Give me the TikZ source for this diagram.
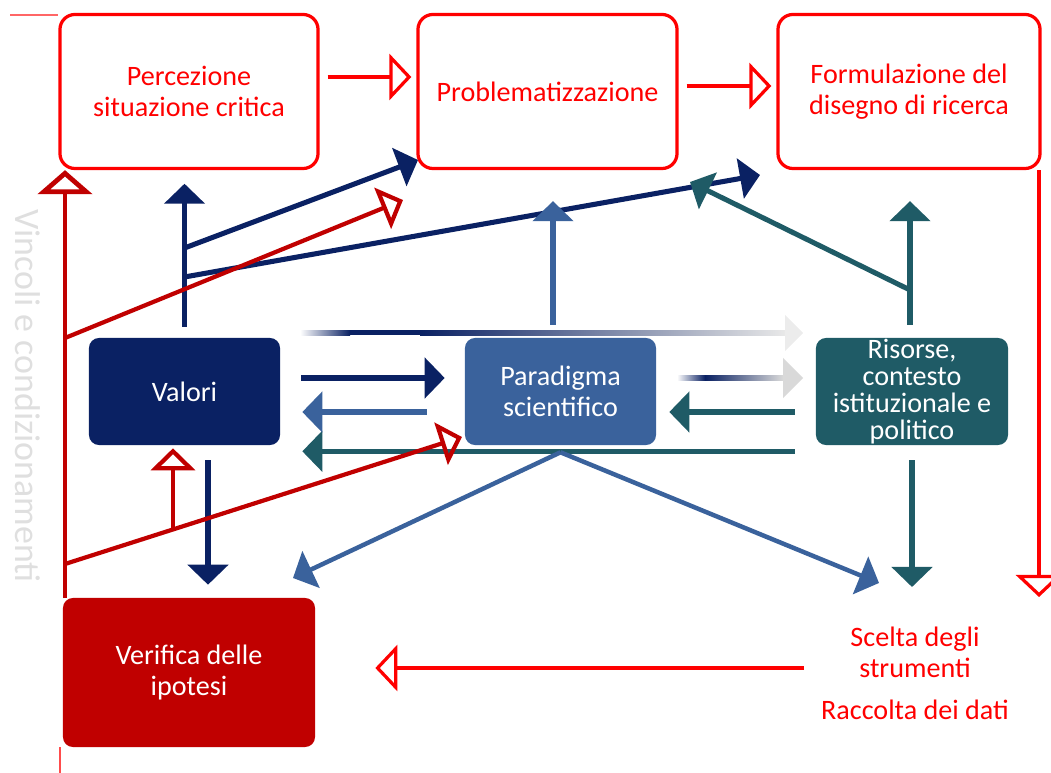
\documentclass[tikz,border=0pt]{standalone}
\usepackage{fontspec}
\setmainfont{Carlito}
\usepackage{xcolor}
\usetikzlibrary{arrows.meta,calc,positioning}

\definecolor{navy}{HTML}{0A2163}
\definecolor{steelblue}{HTML}{3A629C}
\definecolor{darkteal}{HTML}{1F5B66}
\definecolor{brightred}{HTML}{FF0000}
\definecolor{darkred}{HTML}{C00000}
\definecolor{palegray}{HTML}{D9D9D9}

\begin{document}
\begin{tikzpicture}[
    % GLOBAL CFG
    x=0.025cm, y=-0.025cm,
    font=\fontsize{20}{22}\selectfont,
    % Styles
    stage/.style={% For the red outlined stages on top
        rectangle,
        rounded corners=0.375cm,
        draw=brightred,
        line width=2.3pt,
        text=brightred,
        align=center,
        inner sep=0pt,
        minimum width=6.45cm,
        minimum height=3.85cm,
        },
    factor/.style={% For the filled boxes
        rectangle,
        rounded corners=0.25cm,
        text=white,
        align=center,
        inner sep=0pt,
        minimum width=4.775cm,
        minimum height=2.675cm,
        },
    redlabel/.style={% Red text with no box
        text=brightred,
        align=center,
        inner sep=0pt,
        },
    RedArrow/.style={% Open red arrows
        -{Triangle[open, length=0.55cm, width=1.15cm]},
        brightred,
        line width=2.3pt,
        },
    DarkRedArrow/.style={% Open dark red arrows
        -{Triangle[open, length=0.55cm, width=1.1cm]},
        darkred,
        line width=3pt,
        },
    FlowArrow/.style={% Solid arrows
        -{Triangle[length=0.5cm, width=1cm]},
        line width=3.6pt,
        },
    ]

\useasboundingbox (0,0) rectangle (1051,773);

    % Draw the stages
    \node [stage] (percez) at (189,91.5) {Percezione\\situazione critica};
    \node [stage, minimum width=6.475cm] (problem) at (547.5,91.5) {Problematizzazione};
    \node [stage, minimum width=6.55cm] (formul) at (909,91.5) {Formulazione del\\disegno di ricerca};

    % Draw the factors
    \node [factor, fill=navy] (valori) at (184.5,391.5) {Valori};
    \node [factor, fill=steelblue] (paradig) at (560.5,391.5) {Paradigma\\scientifico};
    \node [factor, fill=darkteal, minimum width=4.8cm, font=\fontsize{20}{19.2}\selectfont] (risorse) at (912,391.5) {Risorse,\\contesto\\istituzionale e\\politico};
    \node [factor, fill=darkred, minimum width=6.3cm, minimum height=3.725cm] (verifica) at (189,672.5) {Verifica delle\\ipotesi};

    % Labels
    \node [redlabel] (scelta) at (915,652) {Scelta degli\\strumenti};
    \node [redlabel] (raccolta) at (915,710) {Raccolta dei dati};
    \node [rotate=-90, text=palegray!85, font=\fontsize{25.5}{30}\selectfont] (vincoli) at (28,396) {Vincoli e condizionamenti};

    % Free ends
    \coordinate (topend) at (10,15);
    \coordinate (botend) at (60,773);
    \coordinate (rdown) at (1039,597);
    \coordinate (rleft) at (804,668);
    \coordinate (vbot) at (65,598);
    \coordinate (v1) at (65,338);
    \coordinate (v2) at (65,564);
    \coordinate (probtip) at (403,200);
    \coordinate (paratip) at (462,437);
    \coordinate (n1) at (184.5,248);
    \coordinate (n2) at (184.5,277);
    \coordinate (probbl) at (418,160);
    \coordinate (formbl) at (760,175);
    \coordinate (veritip) at (293,578);
    \coordinate (sceltatip) at (879,583);
    \coordinate (tfork) at (910,290);
    \coordinate (formtip) at (690,182);
    \coordinate (rtip) at (911,587);
    \path ([yshift=-0.175cm]paradig.south) coordinate (pfork);

    % Faded arrows
    \shade [left color=white, right color=navy] (300,330.5) rectangle (350,335.5);
    \fill [navy] (350,330.5) rectangle (420,335.5);
    \shade [left color=navy, right color=palegray!60] (420,330.5) rectangle (785,335.5);
    \fill [palegray!50] (785,315) -- (803,333) -- (785,351) -- cycle;
    \shade [left color=white, right color=navy] (677,375.5) rectangle (705,380.5);
    \shade [left color=navy, right color=palegray] (705,375.5) rectangle (783,380.5);
    \fill [palegray] (783,358) -- (803,378) -- (783,398) -- cycle;

    % Navy arrows
    \draw [FlowArrow, navy, shorten <=0.275cm, shorten >=0.34cm] (valori.north) -- (valori.north |- percez.south);
    \draw [FlowArrow, navy] (n1) -- (probbl);
    \draw [FlowArrow, navy] (n2) -- (formbl);
    \draw [FlowArrow, navy, shorten <=0.525cm, shorten >=0.5cm] ([yshift=0.3375cm]valori.east) -- ([yshift=0.3375cm]paradig.west);
    \draw [FlowArrow, navy, shorten <=0.375cm, shorten >=0.325cm] ([xshift=0.5875cm]valori.south) -- ([xshift=0.5875cm]valori.south |- verifica.north);

    % Teal arrows
    \draw [FlowArrow, darkteal, shorten <=0.525cm, shorten >=0.325cm] ([yshift=-0.5125cm]risorse.west) -- ([yshift=-0.5125cm]paradig.east);
    \draw [FlowArrow, darkteal, shorten <=0.525cm, shorten >=0.55cm] ([yshift=-0.15cm]risorse.south west) -- ([yshift=-0.15cm]valori.south east);
    \draw [FlowArrow, darkteal, shorten <=0.325cm, shorten >=0.775cm] ([xshift=-0.05cm]risorse.north) -- ([xshift=-0.05cm]risorse.north |- formul.south);
    \draw [FlowArrow, darkteal] (tfork) -- (formtip);
    \draw [FlowArrow, darkteal, shorten <=0.375cm] (risorse.south) -- (risorse.south |- rtip);

    % Steel blue arrows
    \draw [FlowArrow, steelblue, shorten <=0.325cm, shorten >=0.775cm] ([xshift=-0.1875cm]paradig.north) -- ([xshift=-0.1875cm]paradig.north |- problem.south);
    \draw [FlowArrow, steelblue, shorten <=0.95cm, shorten >=0.55cm] ([yshift=-0.5125cm]paradig.west) -- ([yshift=-0.5125cm]valori.east);
    \draw [FlowArrow, steelblue, line width=3.2pt] (pfork) -- (veritip);
    \draw [FlowArrow, steelblue, line width=3.2pt] (pfork) -- (sceltatip);

    % Red flow
    \draw [RedArrow, shorten <=0.2cm, shorten >=0.125cm] ([yshift=0.3625cm]percez.east) -- ([yshift=0.3625cm]problem.west);
    \draw [RedArrow, shorten <=0.2cm, shorten >=0.125cm] ([yshift=0.1375cm]problem.east) -- ([yshift=0.1375cm]formul.west);
    \draw [RedArrow] (rdown |- formul.south) -- (rdown);
    \draw [RedArrow, shorten >=1.5cm] (rleft) -- (rleft -| verifica.east);
    \draw [brightred!60, line width=0.8pt] (topend) -- (topend -| percez.west);
    \draw [brightred!70, line width=0.8pt] (botend |- verifica.south) -- (botend);

    % Vincoli
    \draw [DarkRedArrow, -{Triangle[open, length=0.6cm, width=1.35cm]}, line width=3.4pt] (vbot) -- (vbot |- percez.south);
    \draw [DarkRedArrow] (v1) -- (probtip);
    \draw [DarkRedArrow] (v2) -- (paratip);
    \path ($(v2)!0.272!(paratip)$) coordinate (vsplit);
    \draw [DarkRedArrow] (vsplit) -- ([yshift=-0.075cm]vsplit |- valori.south);

\end{tikzpicture}
\end{document}
